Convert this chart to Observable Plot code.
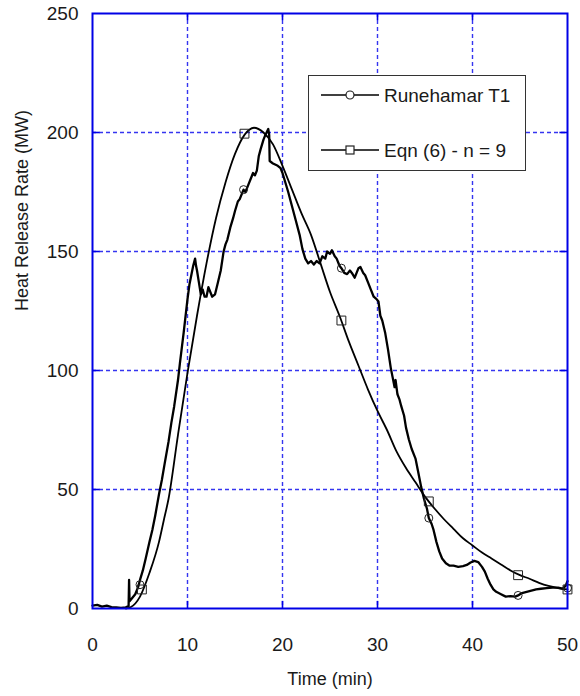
<!DOCTYPE html>
<html>
<head>
<meta charset="utf-8">
<script src="https://cdn.jsdelivr.net/npm/d3@7"></script>
<script src="https://cdn.jsdelivr.net/npm/@observablehq/plot@0.6"></script>
<style>
  html, body { margin: 0; padding: 0; background: #fff; }
  #wrap { position: relative; width: 580px; height: 696px; font-family: "Liberation Sans", Arial, sans-serif; }
  #legend { position: absolute; left: 308px; top: 75px; width: 216px; height: 94px; border: 1.5px solid #333; background: #fff; }
</style>
</head>
<body>
<div id="wrap"><div id="chart"></div><div id="legend"></div></div>
<script>
// ---- Data ----
const seriesNames = ["Runehamar T1", "Eqn (6) - n = 9"];

// Measured curve (Runehamar T1): time (min), HRR (MW)
const measuredTime = [0,0.5,1,1.5,2,2.5,3,3.5,3.8,3.85,3.9,4.2,4.5,4.8,5,5.3,5.6,6,6.3,6.6,7,7.3,7.6,8,8.3,8.6,9,9.2,9.6,10,10.2,10.4,10.6,10.8,10.9,11,11.2,11.4,11.6,11.8,12,12.2,12.4,12.6,12.9,13.2,13.5,13.8,14,14.2,14.5,14.8,15,15.3,15.5,15.9,16.1,16.4,16.7,16.9,17.1,17.3,17.5,17.7,18,18.2,18.5,18.6,18.65,19,19.5,19.8,20,20.3,20.6,21,21.4,21.8,22.1,22.4,22.7,23,23.3,23.6,23.9,24.2,24.5,24.7,25,25.2,25.5,25.7,26,26.2,26.5,26.8,27.1,27.3,27.6,27.8,28,28.2,28.5,28.7,29,29.3,29.6,29.9,30.1,30.3,30.5,30.8,31.1,31.4,31.6,31.8,31.9,32.1,32.3,32.5,32.8,33,33.3,33.6,34,34.3,34.6,34.9,35.2,35.4,35.7,35.9,36.2,36.5,36.8,37.2,37.6,38,38.5,39,39.4,39.8,40.2,40.6,41,41.3,41.6,41.9,42.2,42.5,43,43.5,44,44.5,44.8,45.2,45.7,46.2,46.7,47.2,47.8,48.4,49,49.5,49.8,50];
const measuredHRR = [1.2,1.5,0.8,1.2,0.6,0.5,0.3,0.5,1,12,3,4.5,6,9,12,16,21,28,33,39,48,54,61,70,78,85,96,103,116,130,136,140,144,147,144,142,137,132,134,131,131,135,133,131,132,137,142,150,153,155,160,164,167,171,172,176,175,178,181,183,182,184,190,193,197,199,201.5,199,188,187,186,185,183,179,175,169,163,157,151,147,145,146,144.5,146,145,148,147,150,149,150.5,148,147,144,143,141,140.5,142,141,139,141,143,143.5,141,140,137,134,131,130,129,123,121,116,109,101,97,93,96,90,88,85,81,76,71,67,63,57,51,46,42,38,35.5,33,28,24,21,19,18,18,17.5,17.8,18.3,19.3,20,19.5,17.5,15.5,12.5,10,8,7,6,5,5.2,5,5.5,6.5,7,7.5,8,8.3,8.6,8.8,8.8,8.4,9.5,11.5];

// Model curve (Eqn (6), n = 9)
const modelTime = [3.5,4,5,6,7,7.5,8,9,10,11,12,13,14,15,16,17,18,19,20,21,22,23,24,25,26,27,28,29,30,31,32,33,34,35,36,37,38,39,40,41,42,43,44,45,46,47,48,49,50];
const modelHRR  = [0,0.5,5,15,28,37,46,73,99,123,145,164,179,191,199,202,200,195,186,176,166,157,145,133,123,112,102,92,83,75,66,59,53,47,42,37.5,33.5,29.5,26.5,23.5,21,18.5,16,14,12.5,10.8,9.5,8.6,8];

// Marker positions
const measuredMarkT = [5.0, 15.9, 26.2, 35.4, 44.8, 50];
const measuredMarkV = [10, 176, 143, 38, 5.5, 8.6];
const modelMarkT = [5.2, 16.0, 26.2, 35.4, 44.8, 50];
const modelMarkV = [8, 199.5, 121, 45, 14, 8];

// Axis ticks
const xTicks = [0, 10, 20, 30, 40, 50];
const yTicks = [0, 50, 100, 150, 200, 250];
const xGrid = [10, 20, 30, 40];
const yGrid = [50, 100, 150, 200];
const xLabel = "Time (min)";
const yLabel = "Heat Release Rate (MW)";

// ---- Build tables ----
const measured = measuredTime.map((t, i) => ({t, v: measuredHRR[i]}));
const model = modelTime.map((t, i) => ({t, v: modelHRR[i]}));
const measuredMarks = measuredMarkT.map((t, i) => ({t, v: measuredMarkV[i]}));
const modelMarks = modelMarkT.map((t, i) => ({t, v: modelMarkV[i]}));

const gridColor = "#3535f0";
const frameColor = "#0000e6";

const chart = Plot.plot({
  width: 580,
  height: 696,
  marginLeft: 92,
  marginRight: 13,
  marginTop: 13,
  marginBottom: 88,
  style: {fontFamily: "'Liberation Sans', Arial, sans-serif", fontSize: "19px", color: "#1a1a1a", background: "#fff"},
  x: {domain: [0, 50]},
  y: {domain: [0, 250]},
  marks: [
    Plot.ruleX(xGrid, {stroke: gridColor, strokeWidth: 1.4, strokeDasharray: "4,3"}),
    Plot.ruleY(yGrid, {stroke: gridColor, strokeWidth: 1.4, strokeDasharray: "4,3"}),
    // inward tick marks on all four sides
    Plot.ruleX(xGrid, {y1: 0, y2: 3, stroke: frameColor, strokeWidth: 1.6}),
    Plot.ruleX(xGrid, {y1: 247, y2: 250, stroke: frameColor, strokeWidth: 1.6}),
    Plot.ruleY(yGrid, {x1: 0, x2: 0.8, stroke: frameColor, strokeWidth: 1.6}),
    Plot.ruleY(yGrid, {x1: 49.2, x2: 50, stroke: frameColor, strokeWidth: 1.6}),
    Plot.axisX(xTicks, {tickSize: 0, tickPadding: 29, fontSize: 19, label: null}),
    Plot.axisY(yTicks, {tickSize: 0, tickPadding: 14, fontSize: 19, label: null}),
    Plot.line(model, {x: "t", y: "v", stroke: "#000", strokeWidth: 1.8, curve: "monotone-x"}),
    Plot.line(measured, {x: "t", y: "v", stroke: "#000", strokeWidth: 2.3, strokeLinejoin: "round"}),
    Plot.dot(measuredMarks, {x: "t", y: "v", symbol: "circle", r: 4, stroke: "#222", strokeWidth: 1, fill: "none"}),
    Plot.dot(modelMarks, {x: "t", y: "v", symbol: "square", r: 5, stroke: "#222", strokeWidth: 1, fill: "none"}),
    Plot.frame({stroke: frameColor, strokeWidth: 2}),
    Plot.text([xLabel], {frameAnchor: "bottom", dy: 76, fontSize: 18, fill: "#1a1a1a"}),
    Plot.text([yLabel], {frameAnchor: "left", dx: -70, rotate: -90, fontSize: 18, fill: "#1a1a1a"})
  ]
});
document.getElementById("chart").appendChild(chart);

// ---- Legend (HTML overlay) ----
const leg = d3.select("#legend");
const rows = [
  {name: seriesNames[0], symbol: "circle", y: 19},
  {name: seriesNames[1], symbol: "square", y: 74}
];
const lsvg = leg.append("svg").attr("width", 216).attr("height", 94).style("position", "absolute").style("left", 0).style("top", 0);
rows.forEach(r => {
  lsvg.append("line").attr("x1", 12).attr("x2", 70).attr("y1", r.y).attr("y2", r.y).attr("stroke", "#000").attr("stroke-width", 1.6);
  if (r.symbol === "circle") {
    lsvg.append("circle").attr("cx", 41).attr("cy", r.y).attr("r", 4).attr("fill", "#fff").attr("stroke", "#222").attr("stroke-width", 1.2);
  } else {
    lsvg.append("rect").attr("x", 37).attr("y", r.y - 4).attr("width", 8).attr("height", 8).attr("fill", "#fff").attr("stroke", "#222").attr("stroke-width", 1.2);
  }
  lsvg.append("text").attr("x", 75).attr("y", r.y).attr("dy", "0.35em").attr("font-size", 19).attr("fill", "#1a1a1a").style("font-family", "'Liberation Sans', Arial, sans-serif").text(r.name);
});
</script>
</body>
</html>
